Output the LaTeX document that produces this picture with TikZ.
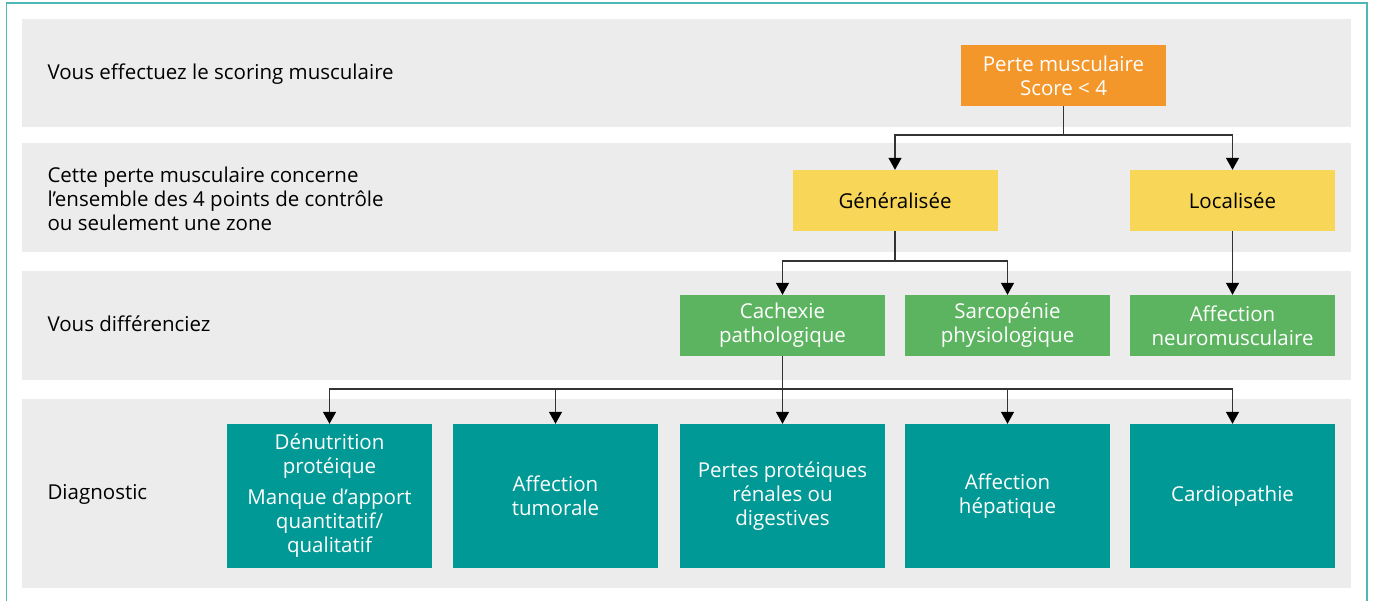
\documentclass[tikz,border=0pt]{standalone}
\usepackage{fontspec}
\setmainfont{Open Sans}
\usetikzlibrary{arrows.meta}

\definecolor{bandgray}{HTML}{ECECEC}
\definecolor{framecol}{HTML}{4DB8B4}
\definecolor{orangebox}{HTML}{F4972B}
\definecolor{yellowbox}{HTML}{F8D658}
\definecolor{greenbox}{HTML}{5CB460}
\definecolor{tealbox}{HTML}{009995}
\definecolor{linecol}{HTML}{333333}

\tikzset{
  band/.style={fill=bandgray},
  rowlabel/.style={anchor=west, align=left, text=black, font=\fontsize{20.5}{24}\selectfont},
  box/.style={inner sep=0pt, minimum width=205pt, minimum height=61pt, align=center,
    text=white, font=\fontsize{20.5}{24}\selectfont},
  perte/.style={box, fill=orangebox},
  zone/.style={box, fill=yellowbox, text=black},
  differ/.style={box, fill=greenbox},
  diag/.style={box, fill=tealbox, minimum height=144pt},
  link/.style={draw=linecol, line width=1.3pt},
  arr/.style={link, -{Triangle[width=13pt,length=12pt]}, arrows={[color=black]}},
}

\begin{document}
\begin{tikzpicture}[x=1pt, y=-1pt]
        \useasboundingbox (0,0) rectangle (1373,600);
        \draw[framecol, line width=1.5pt] (6.5,3) rectangle (1367,620);
        % bandes grises
        \fill[band] (22,19) rectangle (1351,127);
        \fill[band] (22,143) rectangle (1351,252);
        \fill[band] (22,271) rectangle (1351,380);
        \fill[band] (22,399) rectangle (1351,588);
        % textes des lignes
        \node[rowlabel] (L1) at (44,74) {Vous effectuez le scoring musculaire};
        \node[rowlabel] (L2) at (44,199) {Cette perte musculaire concerne\\l'ensemble des 4 points de contrôle\\ou seulement une zone};
        \node[rowlabel] (L3) at (44,324) {Vous différenciez};
        \node[rowlabel] (L4) at (44,494) {Diagnostic};
        % boites
        \node[perte] (P) at (1063.5,75.5) {Perte musculaire\\Score < 4};
        \node[zone] (G) at (895,200.5) {Généralisée};
        \node[zone] (Lo) at (1232.5,200.5) {Localisée};
        \node[differ] (C) at (782.5,325.5) {Cachexie\\pathologique};
        \node[differ] (S) at (1007.5,325.5) {Sarcopénie\\physiologique};
        \node[differ] (N) at (1232.5,325.5) {Affection\\neuromusculaire};
        \node[diag] (D1) at (329.5,496) {Dénutrition\\protéique\\[7pt]Manque d'apport\\quantitatif/\\qualitatif};
        \node[diag] (D2) at (555.5,496) {Affection\\tumorale};
        \node[diag] (D3) at (782.5,496) {Pertes protéiques\\rénales ou\\digestives};
        \node[diag] (D4) at (1007.5,496) {Affection\\hépatique};
        \node[diag] (D5) at (1232.5,496) {Cardiopathie};
        % points de branchement
        \coordinate (F1) at (1063.5,135);
        \coordinate (F2) at (895,261);
        \coordinate (F3) at (782.5,389);
        % connecteurs
        \draw[link] (P.south) -- (F1);
        \draw[arr] (F1) -| (G.north);
        \draw[arr] (F1) -| (Lo.north);
        \draw[link] (G.south) -- (F2);
        \draw[arr] (F2) -| (C.north);
        \draw[arr] (F2) -| (S.north);
        \draw[arr] (Lo.south) -- (N.north);
        \draw[link] (C.south) -- (F3);
        \draw[arr] (F3) -| (D1.north);
        \draw[arr] (F3) -| (D2.north);
        \draw[arr] (F3) -- (D3.north);
        \draw[arr] (F3) -| (D4.north);
        \draw[arr] (F3) -| (D5.north);
    \end{tikzpicture}
\end{document}
